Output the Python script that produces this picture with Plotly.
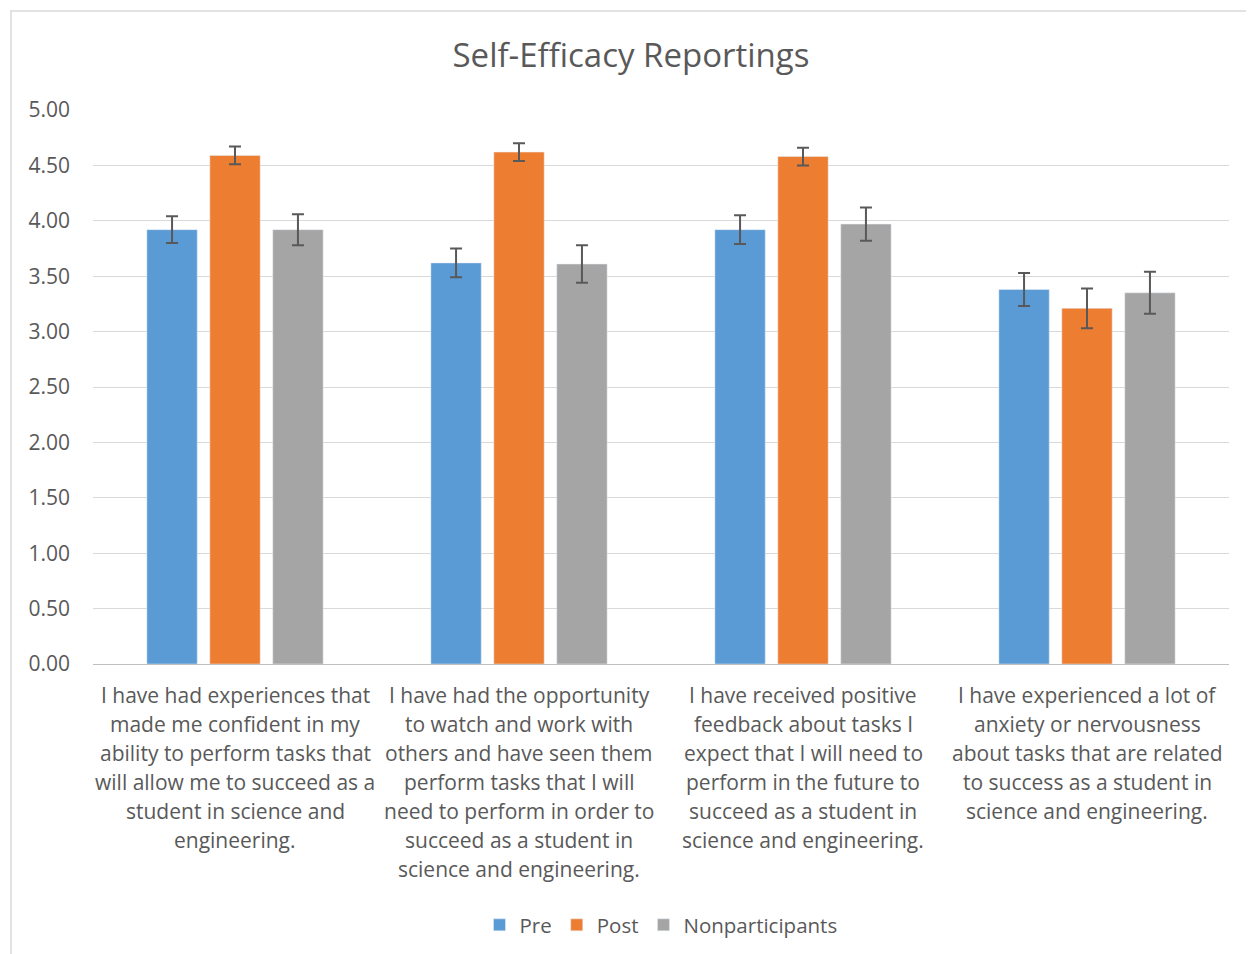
import plotly.graph_objects as go

categories = ["Q1", "Q2", "Q3", "Q4"]
category_lines = [
    ["I have had experiences that", "made me confident in my", "ability to perform tasks that",
     "will allow me to succeed as a", "student in science and", "engineering."],
    ["I have had the opportunity", "to watch and work with", "others and have seen them",
     "perform tasks that I will", "need to perform in order to", "succeed as a student in",
     "science and engineering."],
    ["I have received positive", "feedback about tasks I", "expect that I will need to",
     "perform in the future to", "succeed as a student in", "science and engineering."],
    ["I have experienced a lot of", "anxiety or nervousness", "about tasks that are related",
     "to success as a student in", "science and engineering."],
]
pre = [3.92, 3.62, 3.92, 3.38]
pre_err = [0.12, 0.13, 0.13, 0.15]
post = [4.59, 4.62, 4.58, 3.21]
post_err = [0.08, 0.08, 0.08, 0.18]
nonpart = [3.92, 3.61, 3.97, 3.35]
nonpart_err = [0.14, 0.17, 0.15, 0.19]

FONT = "Open Sans"
TXT = "#595959"
W, H = 1246, 946            # page body has an 8px margin
L, R, T, B = 85, 25, 102, 290
PH = H - T - B
PW = W - L - R

fig = go.Figure()
for name, vals, errs, col in [
    ("Pre", pre, pre_err, "#5B9BD5"),
    ("Post", post, post_err, "#ED7D31"),
    ("Nonparticipants", nonpart, nonpart_err, "#A5A5A5"),
]:
    fig.add_trace(go.Bar(
        name=name, x=categories, y=vals, marker_color=col,
        error_y=dict(type="data", array=errs, visible=True, color="#595959", thickness=2, width=6),
    ))

for cat, lines in zip(categories, category_lines):
    for i, line in enumerate(lines):
        fig.add_annotation(x=cat, xref="x", y=-(31 + 29 * i) / PH, yref="paper",
                           text=line, showarrow=False, xanchor="center", yanchor="middle",
                           font=dict(family=FONT, size=21, color=TXT))

fig.update_layout(
    width=W, height=H,
    paper_bgcolor="white", plot_bgcolor="white",
    margin=dict(l=L, r=R, t=T, b=B, autoexpand=False),
    barmode="group", bargap=0.335, bargroupgap=0.2,
    title=dict(text="Self-Efficacy Reportings", x=0.5, xanchor="center", y=1 - 47 / H, yanchor="middle",
               font=dict(family=FONT, size=33, color=TXT)),
    font=dict(family=FONT, color=TXT),
    legend=dict(orientation="h", x=0.5, xanchor="center", y=-(917 - (H - B)) / PH, yanchor="middle",
                font=dict(family=FONT, size=20.5, color=TXT), itemwidth=30, traceorder="normal"),
    showlegend=True,
)
fig.update_yaxes(range=[0, 5], dtick=0.5, tickformat=".2f", showgrid=True, gridcolor="#D9D9D9",
                 gridwidth=1, zeroline=False, showline=False, ticks="", ticklabelstandoff=22,
                 tickfont=dict(family=FONT, size=21, color=TXT))
fig.update_xaxes(showline=True, linecolor="#BFBFBF", linewidth=1, ticks="", showticklabels=False)

fig.add_shape(type="rect", xref="paper", yref="paper",
              x0=(3 - L) / PW, x1=(W + 20 - L) / PW,
              y0=-(H + 20 - (H - B)) / PH, y1=(T - 3) / PH + 1,
              line=dict(color="#D9D9D9", width=1.5), fillcolor="rgba(0,0,0,0)", layer="below")

fig.write_html("out.html")
